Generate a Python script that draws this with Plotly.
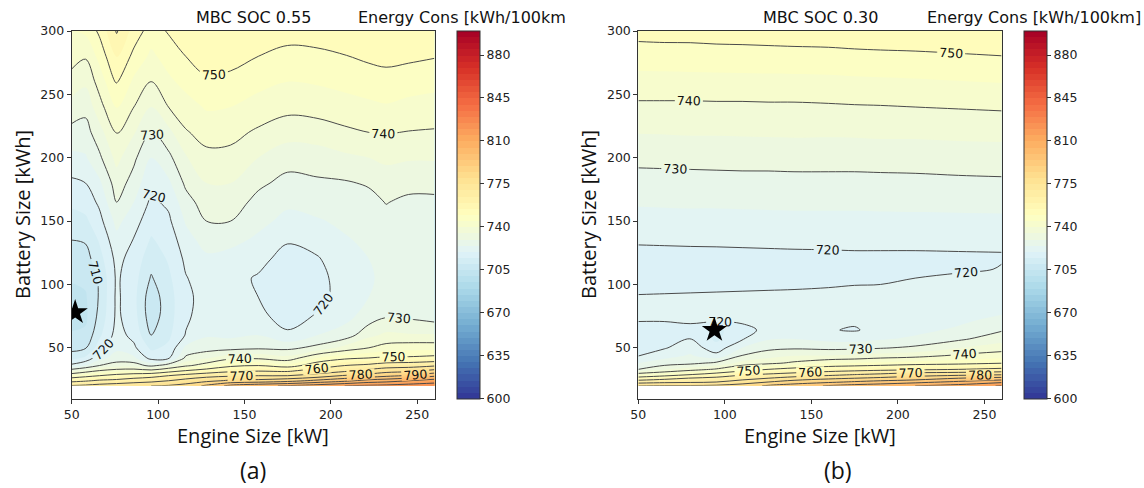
import plotly.graph_objects as go

# ---------------- data ----------------
# panel (a): MBC SOC 0.55
engine_a = [50, 58, 66, 76, 86, 96, 106, 116, 128, 142, 158, 175, 192, 208, 222, 232, 245, 260]
battery_a = [20, 24, 28, 32, 36, 42, 50, 60, 75, 90, 105, 120, 135, 150, 165, 180, 200, 220, 240, 260, 280, 300]
# one list per engine size (values along battery_a)
energy_a_cols = [
    [771, 757, 745, 733, 721.4, 713.5, 708, 705.5, 703, 703.5, 705.5, 708, 710, 713, 716, 719, 723.7, 728.4, 733, 738, 742, 745],
    [772, 759, 747.5, 736.7, 725, 716, 709.5, 706, 704, 704.5, 706, 708, 710.5, 714, 717, 720, 724.5, 728, 731.5, 736, 740.5, 746],
    [774, 761.4, 750, 740, 730, 723.3, 717.5, 714, 711.5, 710.5, 710.7, 713, 715.5, 718.3, 721, 724, 729, 733, 738, 742, 746.5, 751],
    [776, 762.5, 752.5, 742.5, 732.5, 727, 724, 722, 721, 721, 720.8, 721.5, 723.5, 726.5, 730, 732.5, 736.5, 740.5, 745.5, 750.5, 755.5, 760.5],
    [777, 765.5, 754.3, 743.3, 732.5, 726, 721, 718.5, 717, 716.5, 717, 718, 719.7, 722, 725, 728, 731, 735.5, 740, 744, 748.5, 753],
    [780, 766.7, 756.7, 741.7, 728.6, 718, 714, 710, 707, 707, 709.5, 712, 714.5, 717, 719, 720.8, 725, 729.7, 735, 740, 744, 747.5],
    [781, 770, 760, 746, 732.9, 719, 716, 714, 713, 713, 714, 715.5, 717, 719, 721, 724, 728.7, 733.5, 740, 744, 747, 750.5],
    [784, 773.7, 763.3, 750, 738.8, 731, 726, 720.3, 719, 718.8, 719.7, 721, 723, 725.5, 728, 731, 734.5, 739.5, 743, 746.5, 750, 753.5],
    [792, 777.5, 766.7, 753.3, 742.9, 734.3, 727.5, 724.5, 722.7, 722, 722.5, 724, 727, 730, 732.5, 735, 738.5, 742, 745.5, 749.3, 752, 754],
    [803, 781.7, 768.6, 757.5, 748.3, 738.6, 728, 724, 722, 721.3, 721.5, 723, 726.5, 730, 732.5, 735, 738.5, 741.5, 745, 748.5, 752, 755],
    [808, 783, 770, 758.9, 750, 738.8, 729, 725, 721.5, 720, 719.5, 721.5, 724, 726.5, 728.5, 731, 735, 739.2, 743, 746.5, 750, 753],
    [811, 786.5, 770, 758, 746.7, 736.7, 728.6, 721, 717.5, 716.5, 716.5, 718, 720.5, 723.5, 726, 728.5, 732, 737, 741.5, 745, 748.5, 752],
    [815, 792.5, 774, 764, 754, 745, 731.5, 725, 720.5, 718.5, 718.5, 719.5, 722, 724.5, 727, 729.2, 732.5, 737.5, 742, 745.5, 749, 752],
    [820, 797.5, 781, 767.5, 760, 748.3, 736.7, 727, 723.5, 722, 722, 723, 724.5, 726, 728, 729.5, 734, 739, 743, 746.5, 749.8, 752.5],
    [822, 804, 784, 772.5, 762, 750, 740, 733.8, 727, 725, 724.5, 725, 726, 727, 728.5, 730.5, 735, 740, 744, 747.3, 751, 754],
    [823, 806, 787.5, 775.7, 765, 751, 742, 736, 729.5, 727, 726, 726, 727, 728.5, 730.2, 732.5, 736, 740.3, 744.5, 748, 751.5, 755],
    [825, 810, 791, 777, 766, 751, 743, 735.5, 729, 727, 726, 726, 726.5, 727.5, 729, 731.5, 735.5, 739.8, 743.5, 747.3, 751, 754.5],
    [826, 815, 798, 782.5, 768.7, 752, 743, 735.5, 727.5, 726.5, 725.5, 725.5, 726.2, 727.5, 729, 731.5, 735.5, 739.5, 743, 746.5, 750.3, 753],
]
star_a_engine = [52]
star_a_battery = [78]

# panel (b): MBC SOC 0.30
engine_b = [50, 65, 80, 95, 110, 125, 140, 160, 175, 190, 210, 235, 260]
battery_b = [20, 23, 26, 29, 33, 38, 44, 50, 57, 64, 71, 80, 90, 100, 112, 124, 136, 160, 192, 220, 245, 270, 300]
energy_b_cols = [
    [780, 766, 753.3, 742.6, 730, 724.8, 719.6, 717.5, 716.5, 717.3, 720.1, 721.2, 720.3, 718.8, 718, 718.8, 720.8, 724.8, 730, 735.2, 740, 745.3, 751.8],
    [781, 767.7, 756.8, 745.5, 734.3, 727.4, 723, 719.5, 717.5, 717.5, 720.1, 721.3, 720.4, 718.9, 718, 718.9, 720.9, 724.9, 730.1, 735.3, 740, 745.4, 752],
    [781, 768.6, 760.5, 749.4, 737.5, 728.5, 725.5, 723, 720.1, 718.7, 720.5, 721.5, 720.5, 719, 718.1, 719, 721, 725, 730.2, 735.5, 740, 745.5, 752],
    [782, 770, 762.5, 753.3, 740.7, 731, 721.5, 717, 714, 714, 720.2, 721.6, 720.6, 719.1, 718.2, 719.1, 721, 725, 730.3, 735.5, 740.1, 745.6, 752.3],
    [785, 775, 766, 758.5, 745.7, 736.7, 730, 725, 719.5, 717.5, 721, 721.7, 720.7, 719.2, 718.2, 719.2, 721.1, 725.1, 730.4, 735.6, 740.1, 745.7, 752.4],
    [791.5, 780, 770, 761, 750, 738.5, 733, 728.5, 724.5, 722, 721.5, 721.8, 720.8, 719.3, 718.3, 719.3, 721.2, 725.2, 730.4, 735.7, 740.2, 745.8, 752.6],
    [795, 785, 774, 763.3, 752.5, 741, 734.7, 729.2, 725, 722.5, 721.8, 721.8, 720.9, 719.4, 718.4, 719.4, 721.3, 725.3, 730.5, 735.8, 740.2, 745.9, 752.8],
    [801, 788.3, 778, 766.7, 755, 744, 735, 728.5, 723.5, 720.3, 721, 721.8, 721.2, 719.6, 718.6, 719.5, 721.3, 725.3, 730.5, 735.7, 740.4, 746, 753],
    [804, 791.3, 780, 769.5, 756, 745, 735.5, 728.8, 723, 719.6, 720.6, 721.5, 721.3, 719.9, 718.8, 719.6, 721.4, 725.3, 730.5, 735.8, 740.6, 746.3, 753.3],
    [806, 794, 782, 771.7, 757.2, 745.8, 736.9, 729.5, 724.5, 721.5, 721.3, 722, 721.5, 720, 719, 719.6, 721.4, 725.4, 730.6, 736, 740.7, 746.5, 753.5],
    [810, 797.2, 784.3, 775.7, 758.2, 747.3, 737.8, 731, 726, 723.5, 722.5, 722.5, 721.8, 720.5, 719.3, 719.6, 721.4, 725.5, 730.7, 736, 741, 746.7, 753.7],
    [814, 802, 790, 776.7, 760, 748, 740.7, 734.8, 729, 726, 724, 723, 722.3, 721.2, 719.6, 719.7, 721.5, 725.6, 731, 736.3, 741.3, 747.2, 754],
    [821, 808, 793.3, 778.5, 762, 749.6, 742.4, 737.6, 733, 729.5, 727, 723.5, 722.8, 721.8, 720.1, 719.8, 721.6, 725.7, 731.2, 736.4, 741.7, 747.6, 754.5],
]
star_b_engine = [94]
star_b_battery = [64]

x_ticks = [50, 100, 150, 200, 250]
y_ticks = [50, 100, 150, 200, 250, 300]
cbar_ticks = [600, 635, 670, 705, 740, 775, 810, 845, 880]
panel_titles = ["MBC SOC 0.55", "MBC SOC 0.30"]

# --------------- figure ---------------
W, H = 1144, 488
def fx(px):
    return px / W
def fy(py):
    return 1 - py / H

z_a = [list(r) for r in zip(*energy_a_cols)]
z_b = [list(r) for r in zip(*energy_b_cols)]

tick_font = dict(family="DejaVu Sans", size=12.5, color="#222")
axis_col = "#333"

fig = go.Figure()

panels = [
    (engine_a, battery_a, z_a, star_a_engine, star_a_battery, "x", "y", 457),
    (engine_b, battery_b, z_b, star_b_engine, star_b_battery, "x2", "y2", 1024),
]
for ex, by, zz, sx, sy, xa, ya, cbx in panels:
    fig.add_trace(go.Contour(
        x=ex, y=by, z=zz, xaxis=xa, yaxis=ya,
        colorscale="RdYlBu_r", zmin=600, zmax=900, autocontour=False,
        contours=dict(start=600, end=900, size=5, coloring="fill", showlines=False),
        line=dict(width=0, smoothing=1),
        hoverinfo="skip",
        colorbar=dict(
            x=fx(cbx), xanchor="left", xref="paper", xpad=0,
            y=fy(398.5), yanchor="bottom", ypad=0,
            len=(398.5 - 31) / H, lenmode="fraction",
            thickness=23, thicknessmode="pixels",
            outlinewidth=1, outlinecolor=axis_col,
            tickvals=cbar_ticks, ticks="outside", ticklen=4, tickcolor=axis_col,
            tickfont=tick_font,
        ),
    ))
    fig.add_trace(go.Contour(
        x=ex, y=by, z=zz, xaxis=xa, yaxis=ya,
        autocontour=False,
        contours=dict(start=710, end=830, size=10, coloring="none",
                      showlabels=True, labelformat=".0f",
                      labelfont=dict(family="DejaVu Sans", size=12.5, color="#111")),
        line=dict(color="#4a4a4a", width=1, smoothing=1),
        showscale=False, hoverinfo="skip",
    ))
    fig.add_trace(go.Scatter(
        x=sx, y=sy, xaxis=xa, yaxis=ya, mode="markers",
        marker=dict(symbol="star", size=19, color="black"),
        hoverinfo="skip", showlegend=False, cliponaxis=True,
    ))

ax_common = dict(showline=True, mirror=True, linecolor=axis_col, linewidth=1,
                 ticks="outside", ticklen=4, tickwidth=1, tickcolor=axis_col,
                 showgrid=False, zeroline=False, tickfont=tick_font, automargin=False)

fig.update_layout(
    width=W, height=H, template="none",
    margin=dict(l=0, r=0, t=0, b=0),
    paper_bgcolor="white", plot_bgcolor="white",
    showlegend=False,
    xaxis=dict(domain=[fx(71.7), fx(434.5)], range=[50, 260], tickvals=x_ticks, anchor="y", **ax_common),
    yaxis=dict(domain=[fy(398.5), fy(31)], range=[10, 300], tickvals=y_ticks, anchor="x", **ax_common),
    xaxis2=dict(domain=[fx(638.3), fx(1001.7)], range=[50, 260], tickvals=x_ticks, anchor="y2", **ax_common),
    yaxis2=dict(domain=[fy(398.5), fy(31)], range=[10, 300], tickvals=y_ticks, anchor="x2", **ax_common),
)

ann = []
def add_text(text, px, py, size, family, xanchor="center", textangle=0):
    ann.append(dict(text=text, x=fx(px), y=fy(py), xref="paper", yref="paper",
                    xanchor=xanchor, yanchor="middle", showarrow=False, textangle=textangle,
                    font=dict(family=family, size=size, color="#111")))

add_text(panel_titles[0], 253, 17, 16, "DejaVu Sans")
add_text(panel_titles[1], 820, 17, 16, "DejaVu Sans")
add_text("Energy Cons [kWh/100km", 568, 17, 16, "DejaVu Sans", xanchor="right")
add_text("Energy Cons [kWh/100km]", 925, 17, 16, "DejaVu Sans", xanchor="left")
add_text("Engine Size [kW]", 253, 435, 20, "Open Sans")
add_text("Engine Size [kW]", 820, 435, 20, "Open Sans")
add_text("Battery Size [kWh]", 22, 215, 20, "Open Sans", textangle=-90)
add_text("Battery Size [kWh]", 588, 215, 20, "Open Sans", textangle=-90)
add_text("(a)", 253, 470, 23, "Open Sans")
add_text("(b)", 838, 470, 23, "Open Sans")
fig.update_layout(annotations=ann)

fig.write_html("out.html")
